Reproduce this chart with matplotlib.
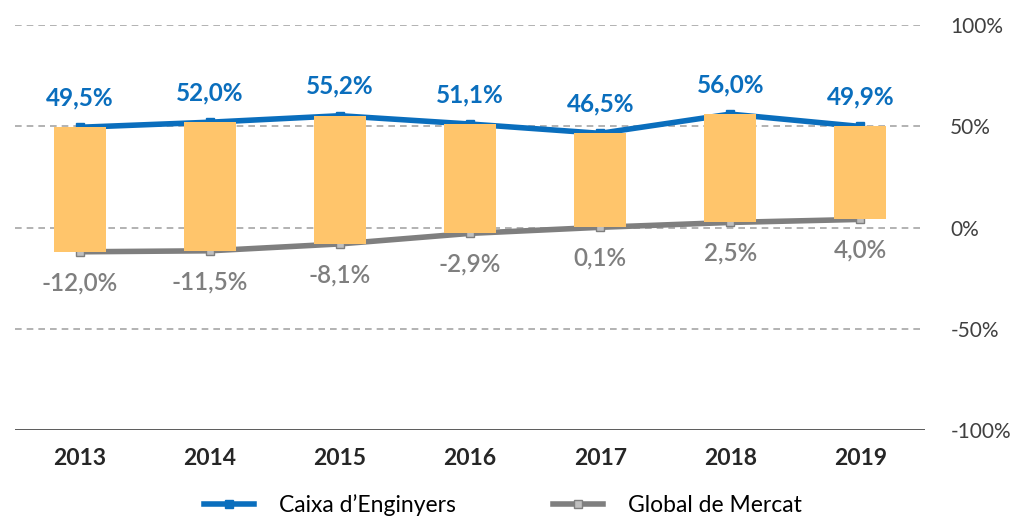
import matplotlib.pyplot as plt

years = ['2013', '2014', '2015', '2016', '2017', '2018', '2019']
caixa = [49.5, 52.0, 55.2, 51.1, 46.5, 56.0, 49.9]
mercat = [-12.0, -11.5, -8.1, -2.9, 0.1, 2.5, 4.0]
yticks = [100, 50, 0, -50, -100]

blue = '#0A6EBD'
gray = '#7F7F7F'
orange = '#FFC56B'

plt.rcParams['font.family'] = ['Lato', 'DejaVu Sans']

fig = plt.figure(figsize=(10.12, 5.30), dpi=100)
ax = fig.add_axes([0.0148, 0.1887, 0.8995, 0.7641])

x = list(range(len(years)))

for v in [100, 50, 0, -50]:
    ax.axhline(v, color='#A6A6A6', linestyle=(0, (4, 3)), linewidth=1.2, zorder=0)
ax.axhline(-100, color='#404040', linewidth=1.2, zorder=0)

ax.plot(x, caixa, color=blue, linewidth=4, marker='s', markersize=6,
        markerfacecolor=blue, markeredgecolor=blue, zorder=1, label='Caixa d\u2019Enginyers')
ax.plot(x, mercat, color=gray, linewidth=4, marker='s', markersize=6,
        markerfacecolor='#BFBFBF', markeredgecolor=gray, zorder=1, label='Global de Mercat')

heights = [c - m for c, m in zip(caixa, mercat)]
ax.bar(x, heights, bottom=mercat, width=0.4, color=orange, zorder=2)

for i in x:
    ax.annotate(f'{caixa[i]:.1f}%'.replace('.', ','), (i, caixa[i]), xytext=(0, 13),
                textcoords='offset points', ha='center', va='bottom',
                color=blue, fontsize=17.5, fontweight='bold')
    ax.annotate(f'{mercat[i]:.1f}%'.replace('.', ','), (i, mercat[i]), xytext=(0, -14),
                textcoords='offset points', ha='center', va='top',
                color=gray, fontsize=17.5, fontweight='semibold')

ax.set_xlim(-0.5, 6.5)
ax.set_ylim(-100, 100)
ax.set_xticks(x)
ax.set_xticklabels(years, fontsize=16.5, fontweight='bold', color='#262626')
ax.yaxis.tick_right()
ax.set_yticks(yticks)
ax.set_yticklabels([f'{v}%' for v in yticks], fontsize=15, color='#404040')
ax.tick_params(axis='both', length=0)
ax.tick_params(axis='x', pad=13)
ax.tick_params(axis='y', pad=18)
for s in ax.spines.values():
    s.set_visible(False)

fig.legend(loc='lower center', bbox_to_anchor=(0.497, -0.012), ncol=2, frameon=False,
           fontsize=16.5, handlelength=2.2, columnspacing=4.2, handletextpad=1.1)

plt.savefig('out.png', dpi=100)
